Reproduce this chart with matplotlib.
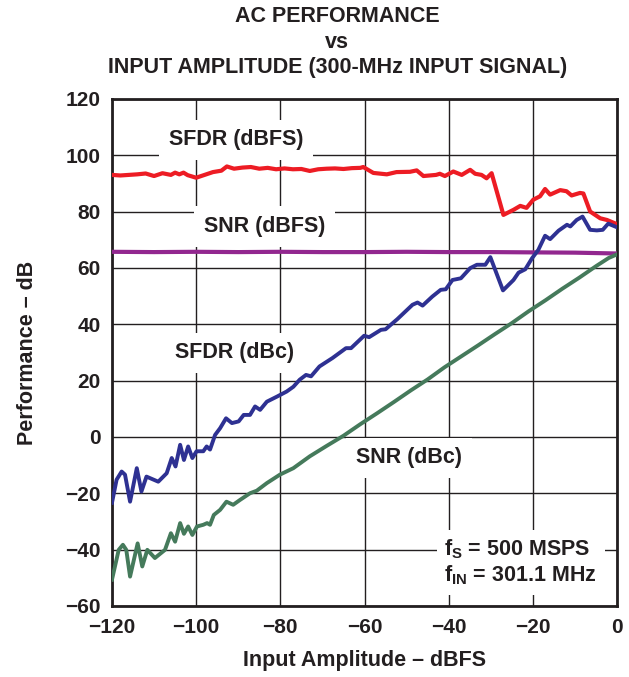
import matplotlib
matplotlib.use("Agg")
import matplotlib.pyplot as plt

plt.rcParams["font.family"] = ["Liberation Sans", "DejaVu Sans"]
plt.rcParams["font.weight"] = "bold"
plt.rcParams["mathtext.fontset"] = "custom"
plt.rcParams["mathtext.rm"] = "Liberation Sans:bold"
plt.rcParams["mathtext.it"] = "Liberation Sans:bold"
plt.rcParams["mathtext.bf"] = "Liberation Sans:bold"

# SFDR (dBFS)
sfdr_fs_x = [-120, -118, -116, -114, -112, -110, -108, -106, -105, -104, -103, -102,
             -100, -98, -96, -94, -92.7, -91, -89, -87, -85, -83, -81, -79, -77, -75,
             -73, -71, -69, -67, -65, -63, -61, -60.3, -57.9, -54.7, -52.4, -49.2, -47.6,
             -46, -43, -42.1, -40.9, -38.9, -36.9, -34.9, -33.7, -32.2, -31, -29.8, -27,
             -24.6, -23, -21.5, -19.9, -18.3, -17.1, -15.9, -13.5, -12, -10.8, -8.8,
             -8, -6.4, -4, -2.4, 0]
sfdr_fs_y = [93, 92.8, 93, 93.2, 93.5, 92.6, 93.6, 93.0, 93.8, 93.2, 93.8, 92.9,
             92.0, 93.0, 94.0, 94.5, 96.0, 95.2, 95.6, 95.8, 95.2, 95.5, 95.0, 95.3, 95.0, 95.1,
             94.4, 95.0, 95.2, 95.3, 95.1, 95.4, 95.5, 95.8, 93.7, 93.2, 94.0, 94.1, 94.6,
             92.6, 93.0, 93.4, 92.6, 94.2, 93.0, 94.8, 93.4, 93.0, 91.8, 93.6, 78.8,
             80.6, 82.0, 81.3, 84.2, 85.4, 88.0, 86.0, 87.6, 87.2, 85.7, 86.6,
             86.4, 80.0, 77.6, 77.0, 75.5]

# SNR (dBFS)
snr_fs_x = [-120, -110, -100, -90, -80, -70, -60, -50, -40, -30, -20, -10, 0]
snr_fs_y = [65.7, 65.6, 65.7, 65.6, 65.7, 65.6, 65.6, 65.7, 65.6, 65.6, 65.5, 65.4, 65.1]

# SFDR (dBc)
sfdr_c_x = [-120, -118.9, -117.7, -116.9, -115.7, -114.1, -113, -111.8, -109, -107,
            -105.8, -104.9, -103.8, -102.9, -101.9, -100.9, -99.9, -98.3, -97.5, -96.7,
            -95.5, -94.3, -92.9, -91.5, -89.9, -88.7, -87.2, -86, -84.8, -83.2, -80.8,
            -78.5, -76.9, -75.4, -73.9, -72.7, -70.7, -67.6, -64.4, -63.2, -60.1, -58.9,
            -56.1, -55, -52.2, -48.6, -47.4, -46.2, -43.9, -41.9, -40.7, -39.1, -37.1,
            -34.9, -33.3, -31.3, -30.1, -27.1, -24.6, -23.4, -21.8, -20.2, -18.7, -17.1,
            -15.9, -13.9, -11.9, -11.1, -9.6, -8.2, -6.4, -4.8, -3.4, -2.1, 0]
sfdr_c_y = [-23.4, -15.2, -12.3, -13.4, -23.0, -11.1, -19.4, -14.1, -15.9, -12.9,
            -7.5, -10.5, -2.8, -8.2, -3.4, -7.5, -5.1, -5.1, -3.4, -4.5,
            0.7, 3.1, 6.6, 4.9, 5.5, 7.8, 7.8, 10.8, 9.6, 12.5, 14.3,
            16.1, 17.8, 20.3, 22.0, 21.5, 25.0, 28.0, 31.5, 31.5, 35.9, 35.4,
            38.0, 38.2, 41.8, 46.9, 47.7, 46.6, 49.8, 52.2, 52.4, 55.7, 56.3,
            59.9, 61.1, 61.1, 63.8, 52.0, 55.7, 58.3, 59.5, 63.4, 66.4, 71.4,
            70.2, 73.2, 75.3, 74.7, 77.0, 78.2, 73.5, 73.3, 73.5, 75.7, 74.4]

# SNR (dBc)
snr_c_x = [-120, -118.4, -117.4, -116.6, -115.7, -113.9, -112.8, -111.6, -109.8, -107.4,
           -106, -105, -103.8, -102.9, -101.9, -100.9, -99.8, -98.3, -97.4, -96.7,
           -95.8, -94.3, -92.8, -91.2, -89.6, -87.2, -85.6, -83.2, -80.1, -76.9,
           -73, -69, -65, -61, -57, -53, -49, -45, -41, -37,
           -33, -29, -25, -21, -17, -13, -9, -5, -2, 0]
snr_c_y = [-50.7, -40.1, -38.3, -40.1, -49.6, -37.8, -46.0, -40.1, -43.0, -40.1,
           -34.2, -37.2, -30.6, -34.4, -31.8, -34.8, -31.8, -31.2, -30.6, -31.2,
           -27.7, -25.9, -23.0, -24.1, -22.4, -20.0, -19.1, -16.4, -13.4, -11.1,
           -6.9, -3.2, 0.4, 4.5, 8.4, 12.4, 16.5, 20.4, 24.7, 28.6,
           32.5, 36.5, 40.4, 44.6, 48.5, 52.6, 56.5, 60.6, 63.5, 64.8]

x_ticks = [-120, -100, -80, -60, -40, -20, 0]
y_ticks = [-60, -40, -20, 0, 20, 40, 60, 80, 100, 120]

fig = plt.figure(figsize=(6.29, 6.77), dpi=100)
ax = fig.add_axes([0.178, 0.105, 0.803, 0.749])

ax.plot(snr_fs_x, snr_fs_y, color="#92278F", lw=3.0, zorder=4)
ax.plot(sfdr_fs_x, sfdr_fs_y, color="#ED1C24", lw=3.0, zorder=4)
ax.plot(sfdr_c_x, sfdr_c_y, color="#2E3192", lw=2.8, zorder=4)
ax.plot(snr_c_x, snr_c_y, color="#457A5B", lw=2.8, zorder=4)

ax.set_xlim(-120, 0)
ax.set_ylim(-60, 120)
ax.set_xticks(x_ticks)
ax.set_yticks(y_ticks)
ax.tick_params(length=0, labelsize=15, colors="#231F20")
ax.tick_params(axis="x", pad=9)
ax.tick_params(axis="y", pad=8)
ax.grid(True, color="#231F20", lw=1.0)
ax.set_axisbelow(True)
for sp in ax.spines.values():
    sp.set_linewidth(2.0)
    sp.set_color("#231F20")

ax.set_xlabel("Input Amplitude \u2013 dBFS", fontsize=15.5, fontweight="bold",
              color="#231F20", labelpad=9)
ax.set_ylabel("Performance \u2013 dB", fontsize=15.5, fontweight="bold",
              color="#231F20", labelpad=20)

box = dict(boxstyle="square,pad=0.45", fc="white", ec="none")
lbl = dict(fontsize=15.5, fontweight="bold", color="#231F20", ha="center",
           va="center", bbox=box, zorder=3)
ax.text(-90.5, 105.4, "SFDR (dBFS)", **lbl)
ax.text(-83.8, 74.7, "SNR (dBFS)", **lbl)
ax.text(-90.8, 29.8, "SFDR (dBc)", **lbl)
ax.text(-49.4, -7.4, "SNR (dBc)", **lbl)
ax.text(-41.0, -44.5, "f$_\\mathrm{S}$ = 500 MSPS\nf$_\\mathrm{IN}$ = 301.1 MHz",
        fontsize=15.5, fontweight="bold", color="#231F20", ha="left", va="center",
        linespacing=1.15, zorder=3,
        bbox=dict(boxstyle="square,pad=0.35", fc="white", ec="none"))

title_kw = dict(ha="center", va="center", fontsize=15.5, fontweight="bold",
                color="#231F20")
fig.text(0.536, 1 - 17 / 677, "AC PERFORMANCE", **title_kw)
fig.text(0.536, 1 - 42 / 677, "vs", **title_kw)
fig.text(0.536, 1 - 67 / 677, "INPUT AMPLITUDE (300-MHz INPUT SIGNAL)", **title_kw)

fig.savefig("out.png", dpi=100)
